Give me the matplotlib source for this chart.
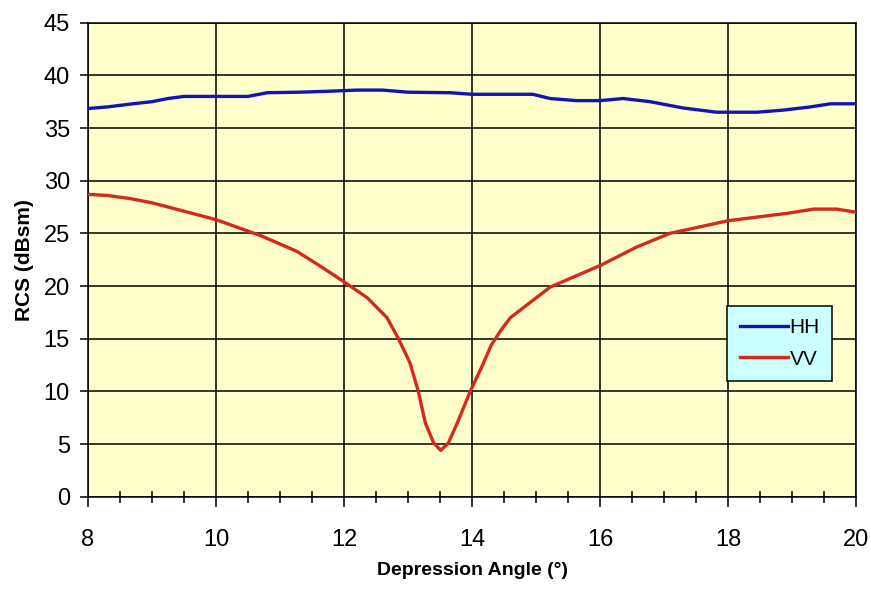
import matplotlib
matplotlib.use('Agg')
import matplotlib.pyplot as plt
from matplotlib.ticker import MultipleLocator

# depression angle (deg) / RCS (dBsm)
hh_x = [8.0, 8.3, 8.7, 9.0, 9.25, 9.5, 10.0, 10.5, 10.8, 11.3, 11.8, 12.2, 12.6, 13.0,
        13.66, 14.0, 14.95, 15.22, 15.63, 16.0, 16.36, 16.78, 17.3, 17.82, 18.45,
        18.86, 19.28, 19.6, 20.0]
hh_y = [36.85, 37.0, 37.3, 37.5, 37.8, 38.0, 38.0, 38.0, 38.35, 38.4, 38.5, 38.6, 38.6, 38.4,
        38.35, 38.2, 38.2, 37.8, 37.6, 37.6, 37.8, 37.5, 36.9, 36.5, 36.5,
        36.7, 37.0, 37.3, 37.3]

vv_x = [8.0, 8.3, 8.66, 9.0, 9.44, 10.0, 10.69, 11.26, 11.6, 12.0, 12.36, 12.67, 12.85,
        13.03, 13.16, 13.27, 13.4, 13.51, 13.63, 13.79, 13.97, 14.15, 14.3, 14.45, 14.6,
        15.22, 16.02, 16.57, 17.09, 18.0, 18.92, 19.33, 19.7, 20.0]
vv_y = [28.7, 28.6, 28.3, 27.9, 27.2, 26.3, 24.8, 23.3, 22.0, 20.4, 18.9, 17.0, 15.0,
        12.7, 10.0, 7.0, 5.1, 4.4, 5.1, 7.3, 10.0, 12.3, 14.4, 15.8, 17.0,
        19.9, 22.0, 23.7, 25.0, 26.2, 26.9, 27.3, 27.3, 27.0]

narrow = ['Liberation Sans Narrow', 'Liberation Sans', 'DejaVu Sans']
plt.rcParams['font.family'] = narrow

fig = plt.figure(figsize=(8.71, 5.89), dpi=100)
ax = fig.add_axes([0.101, 0.1567, 0.882, 0.8048])
ax.set_facecolor('#ffffcc')

ax.plot(hh_x, hh_y, color='#1414b4', lw=2.4, label='HH', zorder=3)
ax.plot(vv_x, vv_y, color='#d42a1c', lw=2.4, label='VV', zorder=3)

ax.set_xlim(8, 20)
ax.set_ylim(0, 45)
ax.xaxis.set_major_locator(MultipleLocator(2))
ax.xaxis.set_minor_locator(MultipleLocator(0.5))
ax.yaxis.set_major_locator(MultipleLocator(5))
ax.grid(True, which='major', color='black', lw=1.1, zorder=1)
ax.set_axisbelow(True)

ax.tick_params(axis='x', which='major', direction='out', length=7, width=1.1,
               pad=16, labelsize=17, color='black')
ax.tick_params(axis='x', which='minor', direction='inout', length=8, width=1.1)
ax.tick_params(axis='y', direction='out', length=6, width=1.1, pad=7, labelsize=17)

for s in ax.spines.values():
    s.set_color('black')
    s.set_linewidth(1.1)

ax.set_xlabel('Depression Angle (°)', fontsize=14, fontweight='bold', labelpad=8)
ax.set_ylabel('RCS (dBsm)', fontsize=15, fontweight='bold', labelpad=7)

leg = ax.legend(loc='lower left', bbox_to_anchor=(0.832, 0.244), borderaxespad=0,
                fontsize=15, handlelength=2.3, handletextpad=0.1, labelspacing=0.6,
                borderpad=0.6, fancybox=False, framealpha=1, edgecolor='black')
leg.get_frame().set_facecolor('#ccffff')
leg.get_frame().set_linewidth(1.1)

fig.savefig('out.png', dpi=100)
